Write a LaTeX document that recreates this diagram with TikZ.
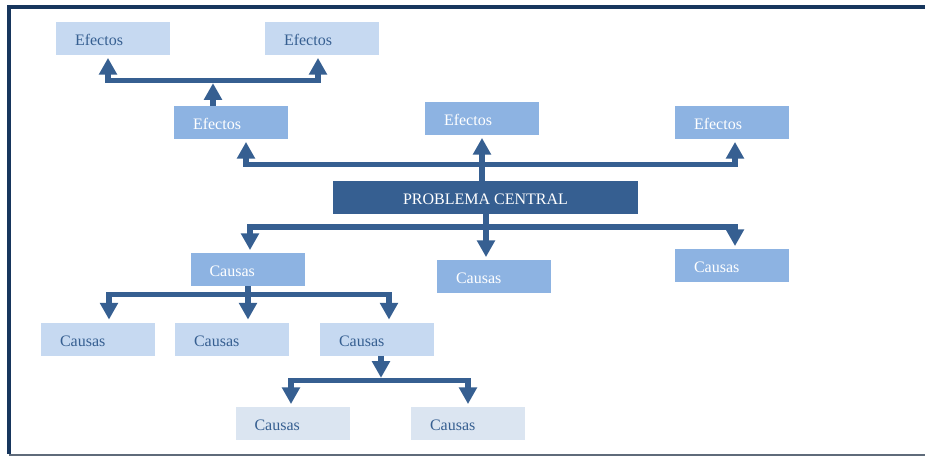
\documentclass[tikz,border=0pt]{standalone}
\usepackage{fontspec}
\setmainfont{Liberation Serif}
\usetikzlibrary{arrows.meta}

\definecolor{framenavy}{HTML}{17365D}
\definecolor{darkblue}{HTML}{365F91}
\definecolor{midblue}{HTML}{8DB3E2}
\definecolor{lightblue}{HTML}{C6D9F1}
\definecolor{paleblue}{HTML}{DBE5F1}
\definecolor{framegray}{HTML}{5F6B7A}

\begin{document}
\begin{tikzpicture}[x=0.75pt, y=-0.75pt,
  box/.style={minimum width=85.5pt, minimum height=24.75pt, inner ysep=0pt,
    inner xsep=14.25pt, text width=57pt, align=left, text height=11.2pt, text depth=0pt,
    font=\fontsize{12}{14}\selectfont},
  lightbox/.style={box, fill=lightblue, text=darkblue},
  palebox/.style={box, fill=paleblue, text=darkblue},
  midbox/.style={box, fill=midblue, text=white},
  conn/.style={draw=darkblue, line width=4pt, shorten >=2pt,
    -{Triangle[width=13pt,length=12.5pt]}},
  tobar/.style={conn, shorten >=2pt}]
\useasboundingbox (0,0) rectangle (925,456);

% Frame
\draw[framenavy, line width=3pt] (925,7) -- (8.5,7) -- (8.5,454);
\draw[framegray, line width=1.5pt] (9,454.5) -- (925,454.5);

% Effects
\node[lightbox] (efA) at (113,38.5) {Efectos};
\node[lightbox] (efB) at (322,38.5) {Efectos};
\node[midbox] (efC) at (231,122.5) {Efectos};
\node[midbox] (efD) at (482,118.5) {Efectos};
\node[midbox] (efE) at (732,122.5) {Efectos};

% Central problem
\node[fill=darkblue, text=white, minimum width=228.75pt, minimum height=24.75pt,
  inner sep=0pt, text height=11.2pt, text depth=0pt,
  font=\fontsize{12}{14}\selectfont] (pc) at (485.5,197.5) {PROBLEMA CENTRAL};

% Causes
\node[midbox] (caA) at (247.5,269.5) {Causas};
\node[midbox] (caB) at (494,276.5) {Causas};
\node[midbox] (caC) at (732,265.5) {Causas};
\node[lightbox] (caD) at (98,339) {Causas};
\node[lightbox] (caE) at (232,339) {Causas};
\node[lightbox] (caF) at (377,339) {Causas};
\node[palebox] (caG) at (292.5,423.5) {Causas};
\node[palebox] (caH) at (468,423.5) {Causas};

% Bars
\coordinate (topM) at (213,80.5);  \coordinate (topL) at (108,80.5);  \coordinate (topR) at (318,80.5);
\coordinate (upM) at (482,164.5);  \coordinate (upL) at (246,164.5);  \coordinate (upR) at (735,164.5);
\coordinate (lowM) at (486,227);   \coordinate (lowL) at (250,227);   \coordinate (lowR) at (735,227);
\coordinate (caM) at (248,294.5);  \coordinate (caL) at (109,294.5);  \coordinate (caR) at (389,294.5);
\coordinate (btM) at (381,380.5);  \coordinate (btL) at (291,380.5);  \coordinate (btR) at (468,380.5);

% Effect arrows
\draw[tobar] (efC.north -| topM) -- (topM);
\draw[conn] (topM) -- (topL) -- (efA.south -| topL);
\draw[conn] (topM) -- (topR) -- (efB.south -| topR);
\draw[conn] (pc.north -| upM) -- (efD.south -| upM);
\draw[conn] (upM) -- (upL) -- (efC.south -| upL);
\draw[conn] (upM) -- (upR) -- (efE.south -| upR);

% Cause arrows
\draw[conn] (pc.south -| lowM) -- (caB.north -| lowM);
\draw[conn] (lowM) -- (lowL) -- (caA.north -| lowL);
\draw[conn] (lowM) -- (lowR) -- (caC.north -| lowR);
\draw[conn] (caA.south -| caM) -- (caE.north -| caM);
\draw[conn] (caM) -- (caL) -- (caD.north -| caL);
\draw[conn] (caM) -- (caR) -- (caF.north -| caR);
\draw[tobar] (caF.south -| btM) -- (btM);
\draw[conn] (btM) -- (btL) -- (caG.north -| btL);
\draw[conn] (btM) -- (btR) -- (caH.north -| btR);
\end{tikzpicture}
\end{document}
